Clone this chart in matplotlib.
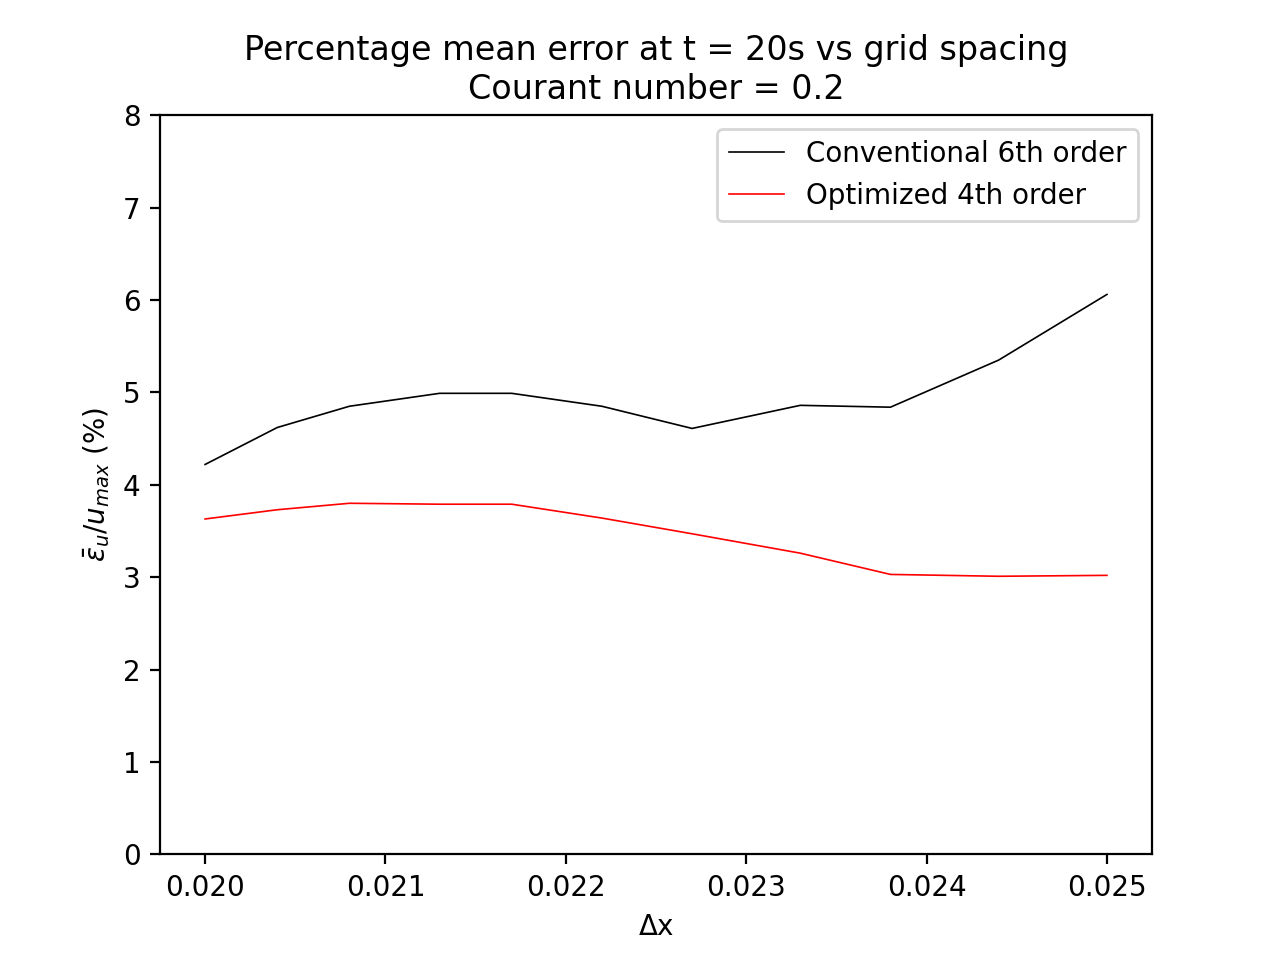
import matplotlib
matplotlib.use("Agg")
import matplotlib.pyplot as plt

dx = [0.0200, 0.0204, 0.0208, 0.0213, 0.0217, 0.0222, 0.0227, 0.0233, 0.0238, 0.0244, 0.0250]
conv6 = [4.22, 4.62, 4.85, 4.99, 4.99, 4.85, 4.61, 4.86, 4.84, 5.35, 6.06]
opt4 = [3.63, 3.73, 3.80, 3.79, 3.79, 3.64, 3.47, 3.26, 3.03, 3.01, 3.02]

fig, ax = plt.subplots(figsize=(6.4, 4.8), dpi=200)
ax.plot(dx, conv6, color="black", linewidth=0.6, label="Conventional 6th order")
ax.plot(dx, opt4, color="red", linewidth=0.6, label="Optimized 4th order")
ax.set_ylim(0, 8)
ax.set_xticks([0.020, 0.021, 0.022, 0.023, 0.024, 0.025])
ax.set_xlabel("Δx")
ax.set_ylabel(r"$\bar{\varepsilon}_u/u_{max}$ (%)")
ax.set_title("Percentage mean error at t = 20s vs grid spacing\nCourant number = 0.2")
ax.legend(loc="upper right")
fig.savefig("out.png", dpi=200)
